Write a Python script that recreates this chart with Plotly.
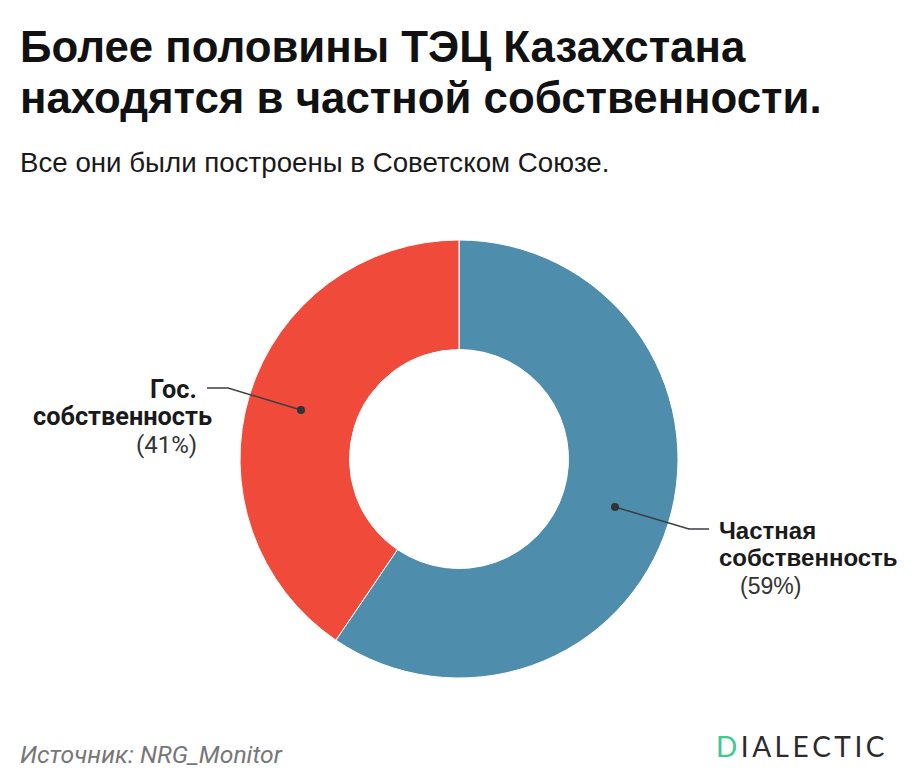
import plotly.graph_objects as go

W, H = 916, 774

labels = ['Частная собственность', 'Гос. собственность']
values = [59.5, 40.5]  # slice boundary in the picture sits a little past 59
colors = ['#4f8dad', '#ef4a3a']

title_lines = ['Более половины ТЭЦ Казахстана', 'находятся в частной собственности.']
subtitle = 'Все они были построены в Советском Союзе.'
source = 'Источник: NRG_Monitor'


# positions below were read in pixels from the top left of the picture
def px(x):
    return x / W


def py(y):
    return 1 - y / H


def text(x, y, s, size, color='#1a1a1a', anchor='left', family='Liberation Sans'):
    return dict(x=px(x), y=py(y), xref='paper', yref='paper', text=s, showarrow=False,
                xanchor=anchor, yanchor='middle', align=anchor, borderpad=0, borderwidth=0,
                font=dict(size=size, color=color, family=family))


fig = go.Figure(go.Pie(
    labels=labels,
    values=values,
    hole=0.5,
    sort=False,
    direction='clockwise',
    rotation=0,
    marker=dict(colors=colors, line=dict(color='white', width=1)),
    textinfo='none',
    showlegend=False,
    domain=dict(x=[px(240), px(678)], y=[py(678), py(240)]),
))

annotations = [
    text(20, 46, f'<b>{title_lines[0]}</b>', 43.8, color='#111111'),
    text(20, 98, f'<b>{title_lines[1]}</b>', 43.8, color='#111111'),
    text(20, 163, subtitle, 27.7),
    text(197, 389, '<b>Гос.</b>', 25.3, anchor='right', family='Roboto'),
    text(212, 416, '<b>собственность</b>', 25.3, anchor='right', family='Roboto'),
    text(197, 445, '(41%)', 24, color='#333333', anchor='right', family='Roboto'),
    text(719, 530, '<b>Частная</b>', 24),
    text(719, 557, '<b>собственность</b>', 24),
    text(740, 586, '(59%)', 23, color='#333333'),
    text(20, 754, f'<i>{source}</i>', 24.7, color='#777777', family='Roboto'),
    text(716, 746, '<span style="color:#3fc98f">D</span>\u2009I\u2009A\u2009L\u2009E\u2009C\u2009T\u2009I\u2009C', 28,
         color='#2b2b2b', family='Lato'),
]


def leader(points):
    path = 'M ' + ' L '.join(f'{px(x)},{py(y)}' for x, y in points)
    return dict(type='path', path=path, xref='paper', yref='paper',
                line=dict(color='#3a3f44', width=1.5))


def dot(x, y, r=4):
    return dict(type='circle', xref='paper', yref='paper',
                x0=px(x - r), x1=px(x + r), y0=py(y + r), y1=py(y - r),
                fillcolor='#2f3438', line=dict(width=0))


shapes = [
    leader([(207, 388), (228, 388), (301, 410)]),
    dot(301, 410),
    leader([(615, 507), (689, 529), (709, 529)]),
    dot(615, 507),
]

fig.update_layout(
    width=W,
    height=H,
    margin=dict(l=0, r=0, t=0, b=0),
    paper_bgcolor='white',
    annotations=annotations,
    shapes=shapes,
)

fig.write_html('out.html', config={'displayModeBar': False},
               post_script="document.body.style.margin='0';document.body.style.overflow='hidden';")
